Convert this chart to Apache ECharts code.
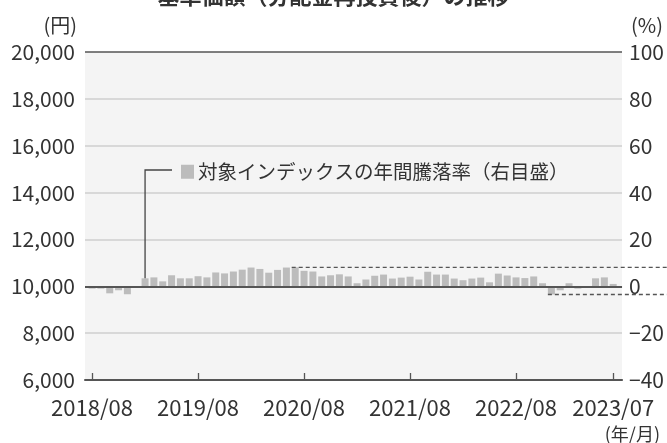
<!DOCTYPE html>
<html>
<head>
<meta charset="utf-8">
<script src="https://cdn.jsdelivr.net/npm/echarts@6/dist/echarts.min.js"></script>
<style>
  html, body { margin: 0; padding: 0; background: #fff; }
  #main { width: 667px; height: 443px; }
</style>
</head>
<body>
<div id="main"></div>
<script>
// 月（2018/08〜2023/07）
const months = [];
for (let y = 2018, m = 8; months.length < 60; m++) {
  if (m > 12) { m = 1; y++; }
  months.push(y + "/" + String(m).padStart(2, "0"));
}
// 対象インデックスの年間騰落率（%）
const yearlyReturn = [
  -1.0, -1.0, -3.0, -1.7, -3.4, -0.6, 3.4, 3.8, 2.1, 4.7, 3.4, 3.4,
  4.3, 3.8, 5.9, 5.5, 6.3, 7.1, 8.0, 7.4, 5.8, 7.0, 8.0, 8.1,
  6.6, 6.3, 4.2, 4.7, 5.1, 4.2, 1.3, 2.9, 4.5, 5.0, 3.3, 3.7,
  4.1, 2.9, 6.2, 5.0, 5.0, 3.3, 2.6, 3.3, 3.7, 1.7, 5.4, 4.6,
  3.8, 3.5, 4.2, 1.3, -3.5, -1.7, 1.3, -1.0, -0.3, 3.4, 3.8, 1.0,
];
const xTickLabels = ["2018/08", "2019/08", "2020/08", "2021/08", "2022/08", "2023/07"];
const legendName = "対象インデックスの年間騰落率（右目盛）";
const titleText = "基準価額（分配金再投資後）の推移";

const FONT = "'Noto Sans CJK JP', 'Noto Sans', sans-serif";
const TXT = "#333";
const DARK = "#555";

const xTickIdx = xTickLabels.map((l) => months.indexOf(l));
const barData = yearlyReturn.map((v, i) => [i, v]);

const chart = echarts.init(document.getElementById("main"));
const option = {
  animation: false,
  textStyle: { fontFamily: FONT },
  grid: { left: 85, right: 44, top: 52, bottom: 63, show: true, backgroundColor: "#f4f4f4", borderWidth: 0 },
  legend: {
    left: 176, top: 157,
    icon: "rect", itemWidth: 13, itemHeight: 14, itemGap: 5,
    textStyle: { fontSize: 19.5, color: TXT, fontFamily: FONT, padding: [0, 0, 0, -1] },
    data: [legendName],
  },
  xAxis: {
    type: "value", min: -0.8, max: 60,
    axisLine: { show: true, onZero: false, lineStyle: { color: DARK, width: 2 } },
    axisTick: { show: true, inside: true, length: 7, customValues: xTickIdx, lineStyle: { color: DARK, width: 1.3 } },
    axisLabel: {
      customValues: xTickIdx, margin: 17, fontSize: 22, color: TXT, fontFamily: FONT,
      formatter: (v) => months[Math.round(v)],
    },
    splitLine: { show: false },
  },
  yAxis: [
    {
      type: "value", min: 6000, max: 20000, interval: 2000, position: "left",
      name: "(円)", nameGap: 17,
      nameTextStyle: { fontSize: 20, color: TXT, align: "right", padding: [0, 15, 0, 0], fontFamily: FONT },
      axisLine: { show: false }, axisTick: { show: false },
      axisLabel: { fontSize: 21, color: TXT, margin: 10, fontFamily: FONT, formatter: (v) => v.toLocaleString("en-US") },
      splitLine: { show: true, lineStyle: { width: 1.6, color: [DARK, "#cfcfcf", "#cfcfcf", "#cfcfcf", "#cfcfcf", "#cfcfcf", "#cfcfcf", DARK] } },
    },
    {
      type: "value", min: -40, max: 100, interval: 20, position: "right",
      name: "(%)", nameGap: 17,
      nameTextStyle: { fontSize: 20, color: TXT, align: "left", padding: [0, 0, 0, 9], fontFamily: FONT },
      axisLine: { show: false }, axisTick: { show: false },
      axisLabel: { fontSize: 21, color: TXT, margin: 7, fontFamily: FONT, formatter: (v) => String(v).replace("-", "−") },
      splitLine: { show: false },
    },
  ],
  series: [
    {
      name: legendName, type: "bar", yAxisIndex: 1, barWidth: 7,
      itemStyle: { color: "#bcbcbc" },
      data: barData,
      markLine: {
        silent: true, symbol: "none", label: { show: false },
        lineStyle: { color: DARK, width: 2, type: "solid" },
        data: [{ yAxis: 0 }],
      },
    },
  ],
};
chart.setOption(option);

// 注記線（最大・最小、凡例の引き出し線）
const W = 667;
let iMax = 0, iMin = 0;
yearlyReturn.forEach((v, i) => {
  if (v > yearlyReturn[iMax]) iMax = i;
  if (v < yearlyReturn[iMin]) iMin = i;
});
const pMax = chart.convertToPixel({ seriesIndex: 0 }, [iMax, yearlyReturn[iMax]]);
const pMin = chart.convertToPixel({ seriesIndex: 0 }, [iMin, yearlyReturn[iMin]]);
const pLead = chart.convertToPixel({ seriesIndex: 0 }, [6, yearlyReturn[6]]);
const dash = { stroke: DARK, lineWidth: 1.3, lineDash: [4, 3] };
const leadY = 170;
chart.setOption({
  graphic: [
    { type: "line", shape: { x1: pMax[0] - 3.5, y1: pMax[1], x2: W, y2: pMax[1] }, style: dash, z: 10 },
    { type: "line", shape: { x1: pMin[0] - 3.5, y1: pMin[1], x2: W, y2: pMin[1] }, style: dash, z: 10 },
    {
      type: "polyline",
      shape: { points: [[172, leadY], [pLead[0], leadY], [pLead[0], pLead[1]]] },
      style: { stroke: "#444", lineWidth: 1.3, fill: null }, z: 10,
    },
    {
      type: "text", left: "center", top: -15,
      style: { text: titleText, font: "bold 22px " + FONT, fill: TXT },
    },
    {
      type: "text", right: 7, top: 425,
      style: { text: "(年/月)", font: "18px " + FONT, fill: TXT },
    },
  ],
});
</script>
</body>
</html>
